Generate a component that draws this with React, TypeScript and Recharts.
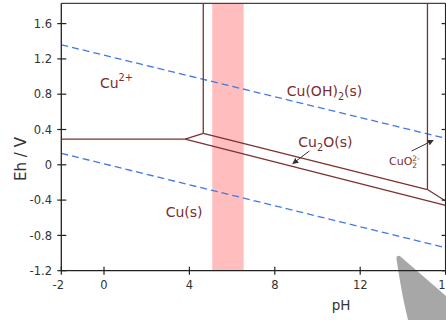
import React from 'react'
import {
  LineChart,
  Line,
  XAxis,
  YAxis,
  ReferenceArea,
  ReferenceLine,
  ReferenceDot,
} from 'recharts'

const phTicks = [-2, 0, 4, 8, 12, 16]
const ehTicks = [-1.2, -0.8, -0.4, 0, 0.4, 0.8, 1.2, 1.6]
const phRange = [-2, 16]
const ehRange = [-1.2, 1.83]

// water stability limits (dashed)
const o2Water = [
  { pH: -2, eh: 1.36 },
  { pH: 16, eh: 0.3 },
]
const h2Water = [
  { pH: -2, eh: 0.13 },
  { pH: 16, eh: -0.94 },
]

// phase boundaries
const cu2Cu = [
  { pH: -2, eh: 0.29 },
  { pH: 3.8, eh: 0.29 },
]
const cu2Cu2o = [
  { pH: 3.8, eh: 0.29 },
  { pH: 4.65, eh: 0.355 },
]
const cu2CuOH = [
  { pH: 4.65, eh: 0.355 },
  { pH: 4.65, eh: 1.83 },
]
const cuOHCu2o = [
  { pH: 4.65, eh: 0.355 },
  { pH: 15.15, eh: -0.28 },
]
const cuOHCuO2 = [
  { pH: 15.15, eh: -0.28 },
  { pH: 15.15, eh: 1.83 },
]
const cu2oCuO2 = [
  { pH: 15.15, eh: -0.28 },
  { pH: 16, eh: -0.41 },
]
const cu2oCu = [
  { pH: 3.8, eh: 0.29 },
  { pH: 16, eh: -0.46 },
]
const boundaries = [cu2Cu, cu2Cu2o, cu2CuOH, cuOHCu2o, cuOHCuO2, cu2oCuO2, cu2oCu]

const band = { from: 5.07, to: 6.54 }

// species labels: anchor = start of text, baseline
const labels = [
  { pH: -0.19, eh: 0.87, size: 14, parts: [['Cu'], ['2+', 'sup']] },
  { pH: 8.56, eh: 0.776, size: 14, parts: [['Cu(OH)'], ['2', 'sub'], ['(s)']] },
  { pH: 9.1, eh: 0.202, size: 14, parts: [['Cu'], ['2', 'sub'], ['O(s)']] },
  { pH: 13.35, eh: -0.006, size: 11, parts: [['CuO'], ['2-', 'sup'], ['2', 'under']] },
  { pH: 2.89, eh: -0.589, size: 14, parts: [['Cu(s)']] },
]

const arrows = [
  [
    { pH: 9.62, eh: 0.156 },
    { pH: 8.84, eh: 0.014 },
  ],
  [
    { pH: 14.41, eh: 0.156 },
    { pH: 15.42, eh: 0.278 },
  ],
]

const FONT = '"DejaVu Sans", Verdana, sans-serif'
const LABEL_COLOR = '#7a2d2d'
const LINE_COLOR = '#7b3232'
const WATER_COLOR = '#4479e0'
const AXIS_COLOR = '#222'

const LeftTick = (props: any) => {
  const { x, y, payload } = props
  return (
    <g>
      <line x1={x - 4} x2={x + 5} y1={y} y2={y} stroke={AXIS_COLOR} strokeWidth={1.2} />
      <text
        x={x - 9.3}
        y={y}
        dy="0.36em"
        textAnchor="end"
        fontSize={11.5}
        fill="#333"
        fontFamily={FONT}
      >
        {String(payload.value)}
      </text>
    </g>
  )
}

const RightTick = (props: any) => {
  const { x, y } = props
  return <line x1={x - 4} x2={x + 5} y1={y} y2={y} stroke={AXIS_COLOR} strokeWidth={1.2} />
}

const BottomTick = (props: any) => {
  const { x, y, payload } = props
  const shift = payload.value === -2 ? -3 : 0
  return (
    <g>
      <line x1={x} x2={x} y1={y - 4} y2={y + 4} stroke={AXIS_COLOR} strokeWidth={1.2} />
      <text
        x={x + shift}
        y={y + 18.6}
        textAnchor="middle"
        fontSize={11.5}
        fill="#333"
        fontFamily={FONT}
      >
        {String(payload.value)}
      </text>
    </g>
  )
}

const speciesLabel = (item: any) => (props: any) => {
  const { x, y } = props.viewBox
  const small = item.size * 0.7
  const tiny = item.size * 0.68
  let shift = 0
  const spans = item.parts.map((p: string[], i: number) => {
    const [txt, kind] = p
    let dy = 0
    let size = item.size
    let dx = 0
    if (kind === 'sup') {
      dy = (item.size === 14 ? -7 : -4.5) - shift
      size = item.size === 14 ? small : tiny
      shift = item.size === 14 ? -7 : -4.5
    } else if (kind === 'sub') {
      dy = 4 - shift
      size = small
      shift = 4
    } else if (kind === 'under') {
      dy = 3 - shift
      size = tiny
      dx = -7.5
      shift = 3
    } else {
      dy = -shift
      shift = 0
    }
    return (
      <tspan key={i} dy={dy} dx={dx} fontSize={size}>
        {txt}
      </tspan>
    )
  })
  return (
    <text x={x} y={y} fill={LABEL_COLOR} fontSize={item.size} fontFamily={FONT}>
      {spans}
    </text>
  )
}

export default function App() {
  return (
    <div
      style={{
        position: 'fixed',
        left: 0,
        top: 0,
        width: 446,
        height: 320,
        overflow: 'hidden',
        background: '#fff',
        fontFamily: FONT,
      }}
    >
      <svg
        width={446}
        height={320}
        style={{ position: 'absolute', left: 0, top: 0, zIndex: 0 }}
      >
        <path
          d="M 396.5 259 C 396 255.5, 399 255, 401 257 L 446 296 L 446 320 L 408 320 C 402 295, 399 275, 396.5 259 Z"
          fill="#a7a7a7"
        />
      </svg>
      <div style={{ position: 'absolute', left: 0, top: 0, zIndex: 1 }}>
        <LineChart
          width={480}
          height={320}
          margin={{ top: 3.3, right: 4.4, bottom: 19.3, left: 0 }}
        >
          <defs>
            <marker
              id="arrowHead"
              viewBox="0 0 10 10"
              refX="9"
              refY="5"
              markerWidth="6"
              markerHeight="6"
              markerUnits="userSpaceOnUse"
              orient="auto"
            >
              <path d="M0,0 L10,5 L0,10 z" fill="#333" />
            </marker>
          </defs>
          <XAxis
            dataKey="pH"
            type="number"
            domain={phRange}
            ticks={phTicks}
            allowDataOverflow
            height={30}
            tickSize={0}
            tickMargin={0}
            tickLine={false}
            tick={<BottomTick />}
            axisLine={{ stroke: AXIS_COLOR, strokeWidth: 1.3 }}
          />
          <YAxis
            dataKey="eh"
            type="number"
            domain={ehRange}
            ticks={ehTicks}
            allowDataOverflow
            width={61.3}
            tickSize={0}
            tickMargin={0}
            tickLine={false}
            tick={<LeftTick />}
            axisLine={{ stroke: AXIS_COLOR, strokeWidth: 1.3 }}
          />
          <YAxis
            yAxisId="right"
            orientation="right"
            type="number"
            domain={ehRange}
            ticks={ehTicks}
            allowDataOverflow
            width={30}
            tickSize={0}
            tickMargin={0}
            tickLine={false}
            tick={<RightTick />}
            axisLine={{ stroke: AXIS_COLOR, strokeWidth: 1.3 }}
          />
          <ReferenceArea
            x1={band.from}
            x2={band.to}
            fill="#ffbdbd"
            fillOpacity={1}
            stroke="none"
          />
          <ReferenceLine y={ehRange[1]} stroke="#444" strokeWidth={1.3} />
          {[o2Water, h2Water].map((seg, i) => (
            <Line
              key={'w' + i}
              data={seg}
              dataKey="eh"
              type="linear"
              stroke={WATER_COLOR}
              strokeWidth={1.3}
              strokeDasharray="7 4"
              dot={false}
              activeDot={false}
              isAnimationActive={false}
            />
          ))}
          {boundaries.map((seg, i) => (
            <Line
              key={'b' + i}
              data={seg}
              dataKey="eh"
              type="linear"
              stroke={LINE_COLOR}
              strokeWidth={1.3}
              dot={false}
              activeDot={false}
              isAnimationActive={false}
            />
          ))}
          {arrows.map((seg, i) => (
            <Line
              key={'a' + i}
              data={seg}
              dataKey="eh"
              type="linear"
              stroke="#333"
              strokeWidth={1}
              markerEnd="url(#arrowHead)"
              dot={false}
              activeDot={false}
              isAnimationActive={false}
            />
          ))}
          {labels.map((item, i) => (
            <ReferenceDot
              key={'l' + i}
              x={item.pH}
              y={item.eh}
              r={0}
              fill="none"
              stroke="none"
              label={speciesLabel(item)}
            />
          ))}
          <text
            x={21}
            y={159}
            transform="rotate(-90 21 159)"
            textAnchor="middle"
            dominantBaseline="central"
            fontSize={15}
            fill="#333"
            fontFamily={FONT}
          >
            Eh / V
          </text>
          <text x={341} y={310} textAnchor="middle" fontSize={13.5} fill="#333" fontFamily={FONT}>
            pH
          </text>
        </LineChart>
      </div>
    </div>
  )
}
